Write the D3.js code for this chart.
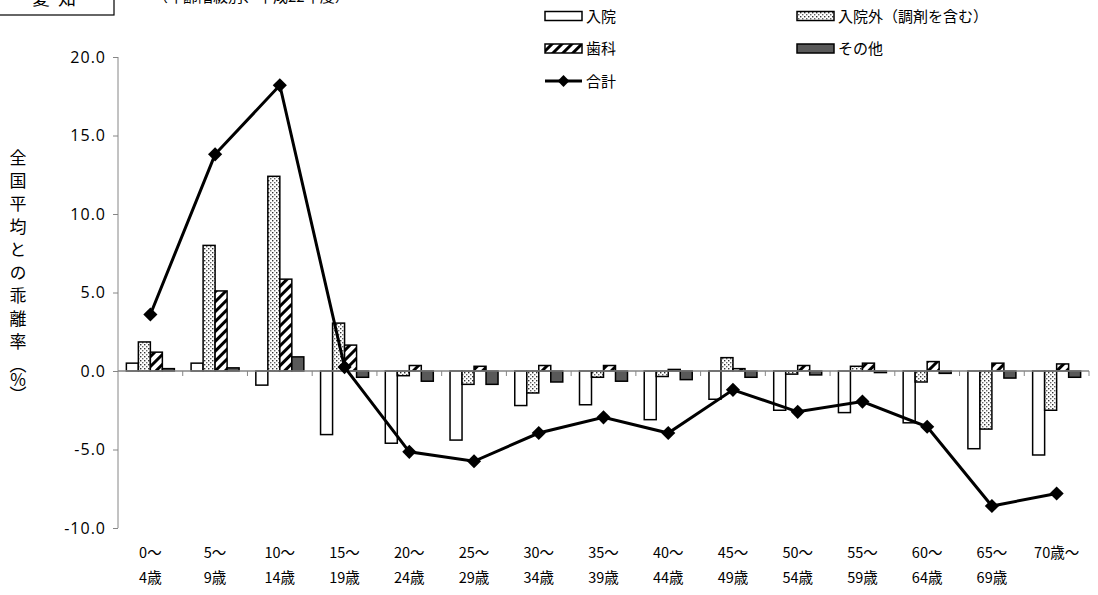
<!DOCTYPE html>
<html><head><meta charset="utf-8">
<script src="https://cdn.jsdelivr.net/npm/d3@7"></script>
<style>
html,body{margin:0;padding:0;background:#fff;}
svg{display:block;}
text{font-family:"Noto Sans CJK JP","Noto Sans",sans-serif;}
</style></head>
<body>
<svg id="chart" width="1098" height="595"></svg>
<script>
const categoriesTop = ["0～","5～","10～","15～","20～","25～","30～","35～","40～","45～","50～","55～","60～","65～","70歳～"];
const categoriesBottom = ["4歳","9歳","14歳","19歳","24歳","29歳","34歳","39歳","44歳","49歳","54歳","59歳","64歳","69歳",""];
const nyuin   = [0.5, 0.5, -0.9, -4.05, -4.6, -4.4, -2.2, -2.15, -3.1, -1.8, -2.5, -2.65, -3.3, -4.95, -5.35];
const gairai  = [1.85, 8.0, 12.4, 3.05, -0.3, -0.85, -1.4, -0.4, -0.35, 0.85, -0.2, 0.3, -0.7, -3.7, -2.5];
const shika   = [1.2, 5.1, 5.85, 1.65, 0.35, 0.3, 0.35, 0.35, 0.1, 0.15, 0.35, 0.5, 0.6, 0.5, 0.45];
const sonota  = [0.15, 0.2, 0.9, -0.4, -0.65, -0.85, -0.7, -0.65, -0.55, -0.4, -0.25, -0.1, -0.15, -0.45, -0.4];
const total   = [3.6, 13.8, 18.2, 0.25, -5.15, -5.75, -3.95, -2.95, -3.95, -1.2, -2.6, -1.95, -3.55, -8.6, -7.8];
const seriesNames = ["入院","入院外（調剤を含む）","歯科","その他","合計"];
const yTicks = [-10, -5, 0, 5, 10, 15, 20];
const yTitleMain = "全国平均との乖離率";
const yTitleUnit = "（%）";

const svg = d3.select("#chart");
const defs = svg.append("defs");

// dotted pattern
const pDot = defs.append("pattern").attr("id","pDot").attr("patternUnits","userSpaceOnUse")
  .attr("width",4).attr("height",4);
pDot.append("rect").attr("width",4).attr("height",4).attr("fill","#fff");
pDot.append("rect").attr("x",0).attr("y",0).attr("width",1.4).attr("height",1.4).attr("fill","#333");
pDot.append("rect").attr("x",2).attr("y",2).attr("width",1.4).attr("height",1.4).attr("fill","#666");
// diagonal stripe
const pDiag = defs.append("pattern").attr("id","pDiag").attr("patternUnits","userSpaceOnUse")
  .attr("width",7).attr("height",7).attr("patternTransform","rotate(45)");
pDiag.append("rect").attr("width",7).attr("height",7).attr("fill","#fff");
pDiag.append("rect").attr("x",0).attr("y",0).attr("width",3).attr("height",7).attr("fill","#000");

const fills = ["#ffffff","url(#pDot)","url(#pDiag)","#595959"];
const seriesData = [nyuin, gairai, shika, sonota];

const x = d3.scaleBand().domain(d3.range(categoriesTop.length)).range([118, 1089]).padding(0);
const y = d3.scaleLinear().domain([-10, 20]).range([528, 57]);
const sub = d3.scaleBand().domain(d3.range(4)).range([0, 48]);
const off = (x.bandwidth() - 48) / 2;

// Bars
seriesData.forEach((arr, s) => {
  svg.append("g").selectAll("rect").data(arr).enter().append("rect")
    .attr("x", (d, i) => x(i) + off + sub(s))
    .attr("y", d => y(Math.max(0, d)))
    .attr("width", sub.bandwidth())
    .attr("height", d => Math.abs(y(d) - y(0)))
    .attr("fill", fills[s])
    .attr("stroke", "#000").attr("stroke-width", 1.5);
});

// Y axis
const yAxis = d3.axisLeft(y).tickValues(yTicks).tickSize(5)
  .tickFormat(d => d3.format(".1f")(d).replace("−", "-"));
const gy = svg.append("g").attr("transform","translate(118,0)").call(yAxis);
gy.select(".domain").attr("stroke","#868686").attr("d","M0,57V528");
gy.selectAll(".tick line").attr("stroke","#868686");
gy.selectAll(".tick text").attr("font-size",16).attr("fill","#000").attr("x",-12)
  .style("letter-spacing","1px")
  .style("font-family","'Open Sans',sans-serif");

// Zero axis with boundary ticks
svg.append("line").attr("x1",118).attr("x2",1089).attr("y1",y(0)).attr("y2",y(0))
  .attr("stroke","#868686").attr("stroke-width",1.3);
svg.append("g").selectAll("line").data(d3.range(1, categoriesTop.length + 1)).enter().append("line")
  .attr("x1", i => 118 + i * x.step()).attr("x2", i => 118 + i * x.step())
  .attr("y1", y(0)).attr("y2", y(0) + 5).attr("stroke","#868686");

// Total line
const line = d3.line().x((d, i) => x(i) + x.bandwidth() / 2).y(d => y(d));
svg.append("path").datum(total).attr("d", line).attr("fill","none")
  .attr("stroke","#000").attr("stroke-width",3);
svg.append("g").selectAll("path").data(total).enter().append("path")
  .attr("d", d3.symbol().type(d3.symbolSquare).size(100))
  .attr("transform", (d, i) => `translate(${x(i) + x.bandwidth() / 2},${y(d)}) rotate(45)`)
  .attr("fill","#000");

// X labels
const gx = svg.append("g");
categoriesTop.forEach((t, i) => {
  const cx = x(i) + x.bandwidth() / 2;
  gx.append("text").attr("x", cx).attr("y", 558).attr("text-anchor","middle")
    .attr("font-size",14.5).text(t);
  gx.append("text").attr("x", cx).attr("y", 583).attr("text-anchor","middle")
    .attr("font-size",14.5).text(categoriesBottom[i]);
});

// Y axis title (vertical writing)
const yt = svg.append("text").attr("x", 18).attr("y", 149.5)
  .attr("font-size", 17)
  .style("writing-mode","vertical-rl").style("text-orientation","upright");
yt.append("tspan").style("letter-spacing","6px").text(yTitleMain);
yt.append("tspan").style("letter-spacing","-2px").text(yTitleUnit);

// Legend
const legendItems = [
  {name: seriesNames[0], kind: "rect", fill: fills[0], x: 545, y: 16},
  {name: seriesNames[1], kind: "rect", fill: fills[1], x: 797, y: 16},
  {name: seriesNames[2], kind: "rect", fill: fills[2], x: 545, y: 48.5},
  {name: seriesNames[3], kind: "rect", fill: fills[3], x: 797, y: 48.5},
  {name: seriesNames[4], kind: "line", x: 545, y: 81}
];
const lg = svg.append("g");
legendItems.forEach(it => {
  if (it.kind === "rect") {
    lg.append("rect").attr("x", it.x).attr("y", it.y - 4.5).attr("width", 37).attr("height", 9)
      .attr("fill", it.fill).attr("stroke","#000").attr("stroke-width",1.5);
  } else {
    lg.append("line").attr("x1", it.x).attr("x2", it.x + 37).attr("y1", it.y).attr("y2", it.y)
      .attr("stroke","#000").attr("stroke-width",3);
    lg.append("path").attr("d", d3.symbol().type(d3.symbolSquare).size(70))
      .attr("transform", `translate(${it.x + 18.5},${it.y}) rotate(45)`).attr("fill","#000");
  }
  lg.append("text").attr("x", it.x + 41).attr("y", it.y + 5.5).attr("font-size",15).text(it.name);
});

// Top-left cut-off box and subtitle (clipped by the top edge, as in the reference)
svg.append("rect").attr("x", -2).attr("y", -20).attr("width", 116).attr("height", 35)
  .attr("fill","none").attr("stroke","#000").attr("stroke-width",1.2);
svg.append("text").attr("x", 32).attr("y", 5).attr("font-size", 18).style("letter-spacing","8px").text("愛知");
svg.append("text").attr("x", 153).attr("y", 2).attr("font-size", 15).text("（年齢階級別、平成22年度）");
</script>
</body></html>
